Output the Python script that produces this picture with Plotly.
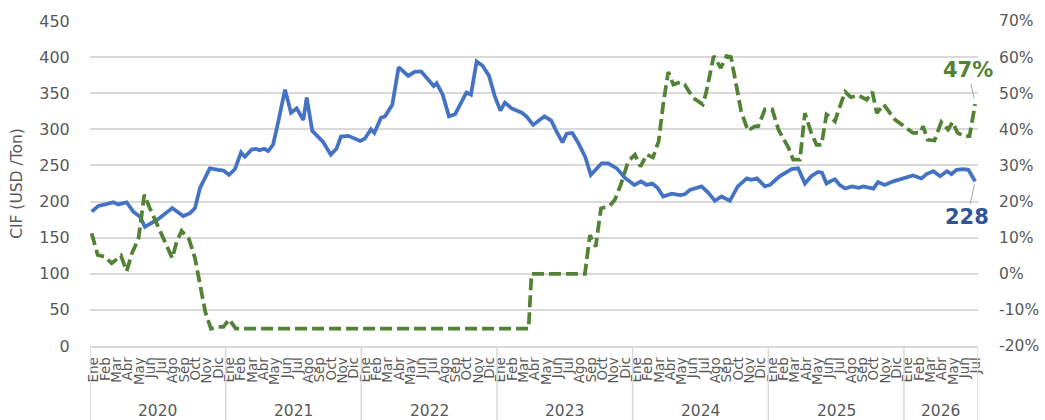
import plotly.graph_objects as go

# ---------------- data ----------------
month_names = ["Ene", "Feb", "Mar", "Abr", "May", "Jun", "Jul", "Ago", "Sep", "Oct", "Nov", "Dic"]
years = [2020, 2021, 2022, 2023, 2024, 2025, 2026]
months_in_last_year = 7  # Ene..Jul 2026
left_ticks = list(range(0, 451, 50))
right_ticks = list(range(-20, 71, 10))

# time position in months since Jan 2020
cif_t = [0.15, 0.74, 1.33, 2.06, 2.5, 3.24, 3.83, 4.42, 4.86, 5.45, 6.05, 7.28, 8.25, 8.85,
         9.29, 9.73, 10.6, 11.35, 11.8, 12.3, 12.83, 13.36, 13.7, 14.3, 14.7, 15.0, 15.4, 15.77,
         16.2, 16.66, 17.25, 17.78, 18.28, 18.87, 19.17, 19.66, 20.6, 21.3, 21.8, 22.2, 22.85,
         23.9, 24.3, 24.85, 25.15, 25.74, 26.1, 26.74, 27.3, 28.15, 28.75, 29.3, 29.9, 30.4,
         30.66, 31.2, 31.75, 32.3, 33.3, 33.7, 34.2, 34.73, 35.3, 35.8, 36.3, 36.7, 37.3, 38.2,
         38.6, 39.2, 40.2, 40.8, 41.3, 41.8, 42.16, 42.66, 43.2, 43.8, 44.3, 44.8, 45.26, 45.84,
         46.6, 47.3, 48.15, 48.74, 49.24, 49.74, 50.2, 50.7, 51.45, 52.2, 52.6, 53.07, 53.66,
         54.1, 54.7, 55.28, 55.87, 56.6, 57.3, 58.1, 58.5, 59.0, 59.7, 60.15, 61.0, 62.06, 62.64,
         63.24, 63.8, 64.4, 64.75, 65.15, 65.6, 65.9, 66.3, 66.8, 67.4, 68.0, 68.4, 68.85, 69.3,
         69.7, 70.3, 71.05, 71.8, 72.8, 73.55, 74.0, 74.6, 75.2, 75.8, 76.2, 76.66, 77.24, 77.7,
         78.3]
cif_usd = [186, 194, 196, 199, 196, 199, 186, 179, 165, 171, 176, 191, 180, 184,
           191, 219, 246, 244, 243, 237, 245, 268, 262, 272, 273, 271, 273, 270,
           279, 311, 355, 323, 329, 313, 344, 298, 283, 265, 273, 290, 291,
           284, 287, 300, 295, 316, 318, 334, 386, 374, 380, 380, 369, 360,
           364, 348, 318, 321, 351, 348, 394, 388, 374, 346, 326, 337, 329, 323,
           318, 306, 318, 312, 296, 282, 294, 295, 281, 262, 237, 245, 253, 253,
           246, 233, 223, 228, 223, 225, 219, 207, 211, 209, 210, 216, 219,
           221, 212, 201, 207, 201, 221, 232, 230, 232, 221, 223, 235, 245, 246,
           225, 235, 241, 240, 225, 229, 231, 223, 218, 221, 219, 221, 219, 218,
           227, 223, 228, 232, 236, 232, 238, 242, 235, 242, 238, 244, 245, 244,
           228]

var_t = [0.15, 0.68, 1.33, 1.92, 2.74, 3.24, 3.7, 4.28, 4.57, 4.8, 5.3, 5.9, 6.63, 7.28,
         7.67, 8.1, 8.76, 9.29, 10.2, 10.7, 11.35, 11.8, 12.3, 12.9, 38.8, 39.05, 43.78, 44.22,
         44.73, 45.2, 46.0, 46.43, 47.0, 47.6, 48.2, 48.7, 49.24, 49.8, 50.3, 50.7, 51.15, 51.6,
         52.2, 52.6, 53.35, 54.2, 54.5, 55.17, 55.8, 56.3, 56.7, 57.2, 57.6, 58.2, 58.8, 59.1,
         59.7, 60.35, 60.9, 61.8, 62.2, 62.8, 63.24, 63.8, 64.27, 64.7, 65.15, 65.6, 65.9, 66.18,
         66.8, 67.3, 68.0, 68.7, 69.2, 69.6, 70.2, 71.2, 72.2, 72.8, 73.4, 73.7, 74.1, 74.7,
         75.3, 75.9, 76.3, 76.75, 77.3, 77.8, 78.3]
var_pct = [11.2, 5.2, 4.7, 2.9, 5.0, 0.7, 5.6, 9.6, 16.3, 21.9, 18.1, 14.0, 8.9, 4.3,
           8.9, 11.9, 9.6, 4.3, -10.6, -15.2, -14.7, -14.7, -12.6, -15.2, -15.2, 0.0, 0.0, 10.7,
           7.5, 18.1, 18.9, 20.5, 25.1, 31.1, 33.0, 29.7, 33.0, 32.2, 36.7, 46.9, 55.9, 52.4,
           53.1, 52.4, 48.7, 46.9, 50.1, 60.3, 57.0, 60.3, 60.0, 51.9, 45.0, 39.6, 40.8, 40.8,
           45.5, 45.5, 39.9, 34.8, 31.6, 31.6, 44.5, 39.0, 35.7, 35.7, 44.1, 43.1, 42.2, 45.0,
           50.4, 48.9, 49.4, 48.2, 50.4, 44.5, 46.9, 42.7, 40.4, 39.0, 39.0, 40.8, 37.1, 36.9,
           42.0, 39.9, 42.0, 39.0, 38.1, 38.1, 47.0]

# ---------------- styling ----------------
FONT = "DejaVu Sans"
GREY_TXT = "#595959"
GRID = "#d9d9d9"
BLUE = "#4472C4"
BLUE_LBL = "#2F5597"
GREEN = "#548235"
CLEAR = "rgba(0,0,0,0)"

n_months = 12 * (len(years) - 1) + months_in_last_year
x_end = 78.55

tick_vals = []
tick_text = []
for i in range(n_months):
    tick_vals.append(i + 0.35)
    tick_text.append(month_names[i % 12])

fig = go.Figure()
fig.add_trace(go.Scatter(x=var_t, y=var_pct, mode="lines", yaxis="y2",
                         line=dict(color=GREEN, width=3.75, dash="12px,5px"),
                         name="Var", showlegend=False))
fig.add_trace(go.Scatter(x=cif_t, y=cif_usd, mode="lines",
                         line=dict(color=BLUE, width=3.75),
                         name="CIF", showlegend=False))

# year dividers and labels below axis
shapes = []
annotations = []
bottom = -(420 - 346) / 325.0
bounds = [12 * k for k in range(len(years))] + [x_end]
for b in bounds:
    shapes.append(dict(type="line", xref="x", yref="paper", x0=b, x1=b, y0=0, y1=bottom,
                       line=dict(color=GRID, width=1.5)))
for k, yr in enumerate(years):
    x0 = bounds[k]
    x1 = bounds[k + 1]
    annotations.append(dict(x=(x0 + x1) / 2, y=(346 - 411.5) / 325.0, xref="x", yref="paper",
                            text=str(yr), showarrow=False, yanchor="middle",
                            font=dict(family=FONT, size=15.5, color=GREY_TXT)))

# end labels
annotations.append(dict(x=cif_t[-1], y=cif_usd[-1], xref="x", yref="y",
                        text="<b>%d</b>" % cif_usd[-1], showarrow=True, arrowhead=0,
                        arrowwidth=1, arrowcolor="#a6a6a6", ax=-8, ay=36, standoff=3,
                        font=dict(family=FONT, size=21, color=BLUE_LBL)))
annotations.append(dict(x=var_t[-1], y=var_pct[-1], xref="x", yref="y2",
                        text="<b>%d%%</b>" % round(var_pct[-1]), showarrow=True, arrowhead=0,
                        arrowwidth=1, arrowcolor="#a6a6a6", ax=-7, ay=-34, standoff=6,
                        font=dict(family=FONT, size=21, color=GREEN)))

fig.update_layout(
    width=1045, height=420,
    margin=dict(l=90, r=67, t=21, b=74, autoexpand=False),
    paper_bgcolor="white", plot_bgcolor="white",
    font=dict(family=FONT, color=GREY_TXT),
    shapes=shapes, annotations=annotations,
    xaxis=dict(range=[0, x_end], tickmode="array", tickvals=tick_vals, ticktext=tick_text,
               tickangle=-90, tickfont=dict(family=FONT, size=13.5, color=GREY_TXT),
               showgrid=False, zeroline=False, showline=True, linecolor=GRID, linewidth=1.5,
               ticks="outside", ticklen=4, tickcolor=CLEAR, automargin=False),
    yaxis=dict(range=[0, 450], tickmode="array", tickvals=left_ticks,
               ticktext=[str(v) for v in left_ticks],
               showgrid=True, gridcolor=GRID, gridwidth=1.5, zeroline=False, showline=False,
               ticks="outside", ticklen=16, tickcolor=CLEAR, automargin=False,
               tickfont=dict(family=FONT, size=16, color=GREY_TXT),
               title=dict(text="CIF (USD /Ton)", font=dict(family=FONT, size=15.5, color=GREY_TXT),
                          standoff=12)),
    yaxis2=dict(range=[-20, 70], tickmode="array", tickvals=right_ticks,
                ticktext=["%d%%" % v for v in right_ticks],
                overlaying="y", side="right", showgrid=False, zeroline=False,
                showline=False, ticks="outside", ticklen=17, tickcolor=CLEAR, automargin=False,
                tickfont=dict(family=FONT, size=15.5, color=GREY_TXT)),
)

fig.write_html("out.html", config={"displayModeBar": False},
               post_script="document.body.style.margin='0';document.body.style.overflow='hidden';")
